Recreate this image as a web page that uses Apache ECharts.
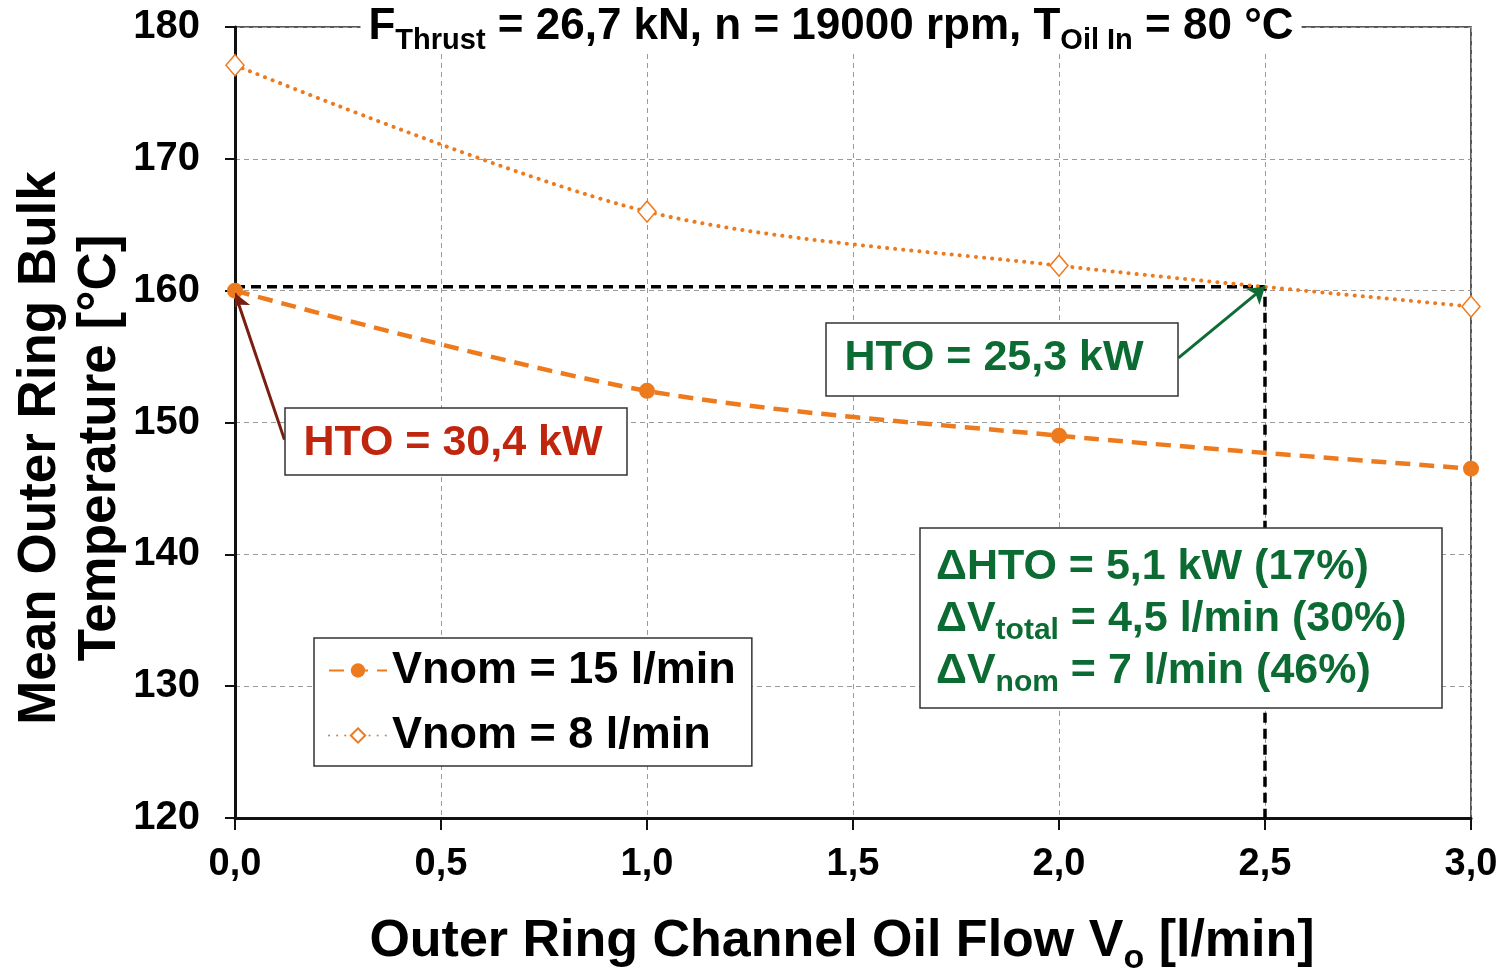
<!DOCTYPE html>
<html>
<head>
<meta charset="utf-8">
<script src="https://cdn.jsdelivr.net/npm/echarts@6/dist/echarts.min.js"></script>
<style>
html,body{margin:0;padding:0;background:#fff;}
#c{width:1505px;height:971px;}
</style>
</head>
<body>
<div id="c"></div>
<script>
// ---- data ----
const flow = [0, 1, 2, 3];                      // Outer ring channel oil flow [l/min]
const tempVnom15 = [160.0, 152.4, 149.0, 146.5]; // Vnom = 15 l/min
const tempVnom8 = [177.1, 166.0, 161.9, 158.8];  // Vnom = 8 l/min
const seriesNames = ['Vnom = 15 l/min', 'Vnom = 8 l/min'];
const refPoint = [2.5, 160.3];                   // equal-temperature reference
const arrowRed = [[0.12, 148.7], [0.0, 159.8]];
const arrowGreen = [[2.29, 154.9], [2.5, 160.3]];
const yMin = 120, yMax = 180, yStep = 10;
const xMin = 0, xMax = 3, xStep = 0.5;

const FONT = "'Liberation Sans', Arial, sans-serif";
const ORANGE = '#EE7A1E';
const GREEN = '#0B6B32';
const RED = '#C0250E';

const chart = echarts.init(document.getElementById('c'), null, {renderer: 'canvas'});

const d15 = flow.map((x, i) => [x, tempVnom15[i]]);
const d8 = flow.map((x, i) => [x, tempVnom8[i]]);

chart.setOption({
  animation: false,
  backgroundColor: '#fff',
  grid: {left: 235, right: 34, top: 27, bottom: 153, show: true, borderColor: '#222', borderWidth: 1.5, backgroundColor: 'transparent'},
  xAxis: {
    type: 'value', min: xMin, max: xMax, interval: xStep,
    axisLine: {show: true, onZero: false, lineStyle: {color: '#111', width: 3}},
    axisTick: {show: true, inside: false, length: 12, lineStyle: {color: '#111', width: 2}},
    axisLabel: {margin: 28, color: '#000', fontFamily: FONT, fontWeight: 'bold', fontSize: 38,
      formatter: v => v.toFixed(1).replace('.', ',')},
    splitLine: {show: true, lineStyle: {color: '#9a9a9a', type: [5, 4], width: 1}}
  },
  yAxis: {
    type: 'value', min: yMin, max: yMax, interval: yStep,
    axisLine: {show: true, onZero: false, lineStyle: {color: '#111', width: 3}},
    axisTick: {show: true, inside: false, length: 10, lineStyle: {color: '#111', width: 2}},
    axisLabel: {margin: 35, color: '#000', fontFamily: FONT, fontWeight: 'bold', fontSize: 40},
    splitLine: {show: true, lineStyle: {color: '#9a9a9a', type: [5, 4], width: 1}}
  },
  legend: {
    show: true, orient: 'vertical', left: 314, top: 638,
    data: seriesNames,
    itemWidth: 58, itemHeight: 18, itemGap: 20,
    padding: [10, 16, 8, 14],
    borderColor: '#333', borderWidth: 1.5, backgroundColor: '#fff',
    textStyle: {color: '#000', fontFamily: FONT, fontWeight: 'bold', fontSize: 45}
  },
  series: [
    {
      name: 'ref', type: 'line', data: [[xMin, refPoint[1]], refPoint, [refPoint[0], yMin]],
      symbol: 'none', silent: true, z: 3,
      lineStyle: {color: '#000', width: 3.5, type: [10, 6]}
    },
    {
      name: seriesNames[0], type: 'line', data: d15, smooth: 0.3, z: 4,
      symbol: 'circle', symbolSize: 16,
      itemStyle: {color: ORANGE},
      lineStyle: {color: ORANGE, width: 4.5, type: [15, 9]}
    },
    {
      name: seriesNames[1], type: 'line', data: d8, smooth: 0.3, z: 4,
      symbol: 'diamond', symbolSize: [18, 21],
      itemStyle: {color: '#fff', borderColor: ORANGE, borderWidth: 1.5},
      lineStyle: {color: ORANGE, width: 4, type: [0.1, 8], cap: 'round'}
    },
    {
      name: 'arrows', type: 'lines', coordinateSystem: 'cartesian2d', z: 6, silent: true,
      symbol: ['none', 'arrow'], symbolSize: 16,
      data: [
        {coords: arrowRed, lineStyle: {color: '#7A1E12', width: 3, opacity: 1}},
        {coords: arrowGreen, lineStyle: {color: '#0E6B35', width: 3, opacity: 1}}
      ],
      lineStyle: {opacity: 1}
    }
  ],
  graphic: [
    // title with white background over top border
    {type: 'text', x: 831, y: 27, z: 100,
      style: {
        text: '{a|F}{s|Thrust}{a| = 26,7 kN, n = 19000 rpm, T}{s|Oil In}{a| = 80 °C}',
        align: 'center', verticalAlign: 'middle', backgroundColor: '#fff', padding: [0, 8, 0, 8],
        rich: {
          a: {fontFamily: FONT, fontWeight: 'bold', fontSize: 44, fill: '#000', lineHeight: 50},
          s: {fontFamily: FONT, fontWeight: 'bold', fontSize: 29, fill: '#000', lineHeight: 29, padding: [28, 0, 0, 0]}
        }
      }},
    // y axis name
    {type: 'text', x: 40, y: 448, rotation: Math.PI / 2, z: 100,
      style: {text: 'Mean Outer Ring Bulk', font: "bold 53px " + FONT, fill: '#000', align: 'center', verticalAlign: 'middle'}},
    {type: 'text', x: 100, y: 448, rotation: Math.PI / 2, z: 100,
      style: {text: 'Temperature [°C]', font: "bold 53px " + FONT, fill: '#000', align: 'center', verticalAlign: 'middle'}},
    // x axis name
    {type: 'text', x: 842, y: 942, z: 100,
      style: {
        text: '{a|Outer Ring Channel Oil Flow V}{s|o}{a| [l/min]}',
        align: 'center', verticalAlign: 'middle',
        rich: {
          a: {fontFamily: FONT, fontWeight: 'bold', fontSize: 52, fill: '#000', lineHeight: 58},
          s: {fontFamily: FONT, fontWeight: 'bold', fontSize: 34, fill: '#000', lineHeight: 34, padding: [34, 0, 0, 0]}
        }
      }},
    // red HTO box
    {type: 'rect', z: 50, shape: {x: 285, y: 408, width: 342, height: 67},
      style: {fill: '#fff', stroke: '#333', lineWidth: 1.5}},
    {type: 'text', z: 51, x: 453, y: 443,
      style: {text: 'HTO = 30,4 kW', font: "bold 43px " + FONT, fill: RED, align: 'center', verticalAlign: 'middle'}},
    // green HTO box
    {type: 'rect', z: 50, shape: {x: 826, y: 323, width: 352, height: 73},
      style: {fill: '#fff', stroke: '#333', lineWidth: 1.5}},
    {type: 'text', z: 51, x: 994, y: 358,
      style: {text: 'HTO = 25,3 kW', font: "bold 43px " + FONT, fill: GREEN, align: 'center', verticalAlign: 'middle'}},
    // delta box
    {type: 'rect', z: 50, shape: {x: 920, y: 528, width: 522, height: 180},
      style: {fill: '#fff', stroke: '#333', lineWidth: 1.5}},
    {type: 'text', z: 51, x: 936, y: 619,
      style: {
        text: '{a|ΔHTO = 5,1 kW (17%)}\n{a|ΔV}{s|total}{a| = 4,5 l/min (30%)}\n{a|ΔV}{s|nom}{a| = 7 l/min (46%)}',
        align: 'left', verticalAlign: 'middle',
        rich: {
          a: {fontFamily: FONT, fontWeight: 'bold', fontSize: 43, fill: GREEN, lineHeight: 52},
          s: {fontFamily: FONT, fontWeight: 'bold', fontSize: 30, fill: GREEN, lineHeight: 30, padding: [24, 0, 0, 0]}
        }
      }}
  ]
});
</script>
</body>
</html>
